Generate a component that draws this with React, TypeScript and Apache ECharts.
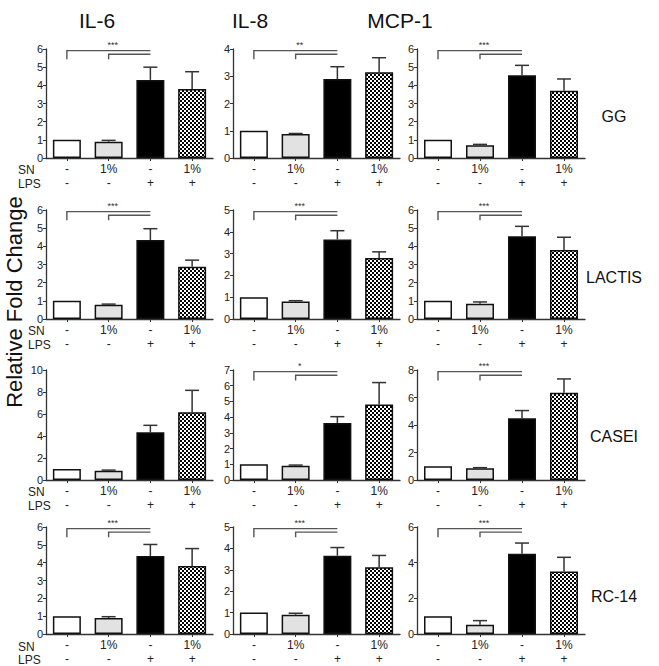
import React, { useEffect, useRef } from "react";
import * as echarts from "echarts";

const cytokines = ["IL-6", "IL-8", "MCP-1"];
const strains = ["GG", "LACTIS", "CASEI", "RC-14"];
const conditions = ["Control", "SN", "LPS", "SN+LPS"];
const snLabels = ["-", "1%", "-", "1%"];
const lpsLabels = ["-", "-", "+", "+"];

// mean values (fold change) per strain, per cytokine
const ggIL6 = [1.0, 0.9, 4.3, 3.8];
const ggIL8 = [1.0, 0.88, 2.9, 3.15];
const ggMCP1 = [1.0, 0.7, 4.55, 3.7];
const lactisIL6 = [1.0, 0.78, 4.35, 2.88];
const lactisIL8 = [1.0, 0.8, 3.65, 2.8];
const lactisMCP1 = [1.0, 0.84, 4.55, 3.8];
const caseiIL6 = [1.0, 0.85, 4.33, 6.15];
const caseiIL8 = [1.0, 0.9, 3.63, 4.8];
const caseiMCP1 = [1.0, 0.85, 4.5, 6.35];
const rc14IL6 = [1.0, 0.9, 4.38, 3.82];
const rc14IL8 = [1.0, 0.9, 3.66, 3.12];
const rc14MCP1 = [1.0, 0.52, 4.5, 3.5];

// upper error (SEM)
const ggIL6Err = [0, 0.07, 0.7, 0.95];
const ggIL8Err = [0, 0.02, 0.45, 0.53];
const ggMCP1Err = [0, 0.05, 0.55, 0.65];
const lactisIL6Err = [0, 0.04, 0.62, 0.36];
const lactisIL8Err = [0, 0.04, 0.4, 0.28];
const lactisMCP1Err = [0, 0.1, 0.55, 0.7];
const caseiIL6Err = [0, 0.05, 0.64, 2.0];
const caseiIL8Err = [0, 0.05, 0.4, 1.4];
const caseiMCP1Err = [0, 0.05, 0.55, 1.0];
const rc14IL6Err = [0, 0.07, 0.64, 0.97];
const rc14IL8Err = [0, 0.07, 0.38, 0.55];
const rc14MCP1Err = [0, 0.23, 0.6, 0.8];

const axisMax = [
  [6, 4, 6],
  [6, 5, 6],
  [10, 7, 8],
  [6, 5, 6],
];
const axisInterval = [
  [1, 1, 1],
  [1, 1, 1],
  [2, 1, 2],
  [1, 1, 2],
];
const significance = [
  ["***", "**", "***"],
  ["***", "***", "***"],
  ["", "*", "***"],
  ["***", "***", "***"],
];

const values = [
  [ggIL6, ggIL8, ggMCP1],
  [lactisIL6, lactisIL8, lactisMCP1],
  [caseiIL6, caseiIL8, caseiMCP1],
  [rc14IL6, rc14IL8, rc14MCP1],
];
const errors = [
  [ggIL6Err, ggIL8Err, ggMCP1Err],
  [lactisIL6Err, lactisIL8Err, lactisMCP1Err],
  [caseiIL6Err, caseiIL8Err, caseiMCP1Err],
  [rc14IL6Err, rc14IL8Err, rc14MCP1Err],
];

// layout
const colLeft = [46, 233, 417];
const colWidth = [167, 167, 168];
const rowTop = [49, 210, 370, 527];
const rowHeight = [109, 109, 110, 109];
const FONT = "Liberation Sans, Arial, Helvetica, sans-serif";
const INK = "#222";

function makeChecker() {
  const c = document.createElement("canvas");
  c.width = 4;
  c.height = 4;
  const ctx = c.getContext("2d")!;
  ctx.fillStyle = "#fff";
  ctx.fillRect(0, 0, 4, 4);
  ctx.fillStyle = "#000";
  ctx.fillRect(0, 0, 2, 2);
  ctx.fillRect(2, 2, 2, 2);
  return c;
}

export default function App() {
  const ref = useRef<HTMLDivElement>(null);
  useEffect(() => {
    if (!ref.current) return;
    const chart = echarts.init(ref.current, null, { renderer: "svg" });
    const checker = makeChecker();
    const barFills: any[] = [
      "#ffffff",
      "#e2e2e2",
      "#000000",
      { image: checker, repeat: "repeat" },
    ];

    const grid: any[] = [];
    const xAxis: any[] = [];
    const yAxis: any[] = [];
    const series: any[] = [];
    let idx = 0;
    for (let r = 0; r < 4; r++) {
      for (let c = 0; c < 3; c++) {
        const max = axisMax[r][c];
        grid.push({
          left: colLeft[c],
          width: colWidth[c],
          top: rowTop[r],
          height: rowHeight[r],
          containLabel: false,
        });
        xAxis.push({
          type: "category",
          gridIndex: idx,
          data: conditions,
          axisLine: { lineStyle: { color: "#333", width: 1.3 } },
          axisTick: { show: true, alignWithLabel: true, length: 3, lineStyle: { color: "#333" } },
          axisLabel: {
            interval: 0,
            margin: 4,
            fontFamily: FONT,
            fontSize: 12,
            lineHeight: 14,
            color: INK,
            formatter: (_v: string, i: number) => `${snLabels[i]}\n${lpsLabels[i]}`,
          },
        });
        yAxis.push({
          type: "value",
          gridIndex: idx,
          min: 0,
          max,
          interval: axisInterval[r][c],
          axisLine: { show: true, lineStyle: { color: "#333", width: 1.3 } },
          axisTick: { show: true, length: 3, lineStyle: { color: "#333" } },
          splitLine: { show: false },
          axisLabel: { fontFamily: FONT, fontSize: 11, color: INK, margin: 3 },
        });
        const vals = values[r][c];
        const errs = errors[r][c];
        series.push({
          type: "bar",
          xAxisIndex: idx,
          yAxisIndex: idx,
          barWidth: 28,
          z: 2,
          data: vals.map((v, i) => ({
            value: v,
            itemStyle: { color: barFills[i], borderColor: "#111", borderWidth: 1.5 },
          })),
        });
        series.push({
          type: "custom",
          xAxisIndex: idx,
          yAxisIndex: idx,
          z: 3,
          data: vals.map((v, i) => [i, v, v + errs[i]]),
          renderItem: (_p: any, api: any) => {
            const b = api.coord([api.value(0), api.value(1)]);
            const t = api.coord([api.value(0), api.value(2)]);
            if (Math.abs(b[1] - t[1]) < 0.5) return null;
            return {
              type: "group",
              children: [
                {
                  type: "line",
                  shape: { x1: b[0], y1: b[1], x2: t[0], y2: t[1] },
                  style: { stroke: "#333", lineWidth: 1.5 },
                },
                {
                  type: "line",
                  shape: { x1: t[0] - 7, y1: t[1], x2: t[0] + 7, y2: t[1] },
                  style: { stroke: "#333", lineWidth: 1.5 },
                },
              ],
            };
          },
        });
        const sig = significance[r][c];
        if (sig) {
          series.push({
            type: "custom",
            xAxisIndex: idx,
            yAxisIndex: idx,
            z: 4,
            data: [[0, 1, 2, max * 0.985, max * 0.952, max * 0.905]],
            renderItem: (_p: any, api: any) => {
              const p0 = api.coord([api.value(0), api.value(5)]);
              const p0t = api.coord([api.value(0), api.value(3)]);
              const p2t = api.coord([api.value(2), api.value(3)]);
              const p1 = api.coord([api.value(1), api.value(5)]);
              const p1s = api.coord([api.value(1), api.value(4)]);
              const p2s = api.coord([api.value(2), api.value(4)]);
              const st = { stroke: "#555", lineWidth: 1.4, fill: null };
              return {
                type: "group",
                children: [
                  { type: "polyline", shape: { points: [p0, p0t, p2t] }, style: st },
                  { type: "polyline", shape: { points: [p1, p1s, p2s] }, style: st },
                  {
                    type: "text",
                    x: (p0t[0] + p2t[0]) / 2 + 4,
                    y: p0t[1] - 1,
                    style: {
                      text: sig,
                      font: `9px ${FONT}`,
                      fill: "#333",
                      textAlign: "center",
                      textVerticalAlign: "bottom",
                    },
                  },
                ],
              };
            },
          });
        }
        idx++;
      }
    }

    const graphic: any[] = [];
    const titleX = [97, 250, 400];
    cytokines.forEach((t, i) =>
      graphic.push({
        type: "text",
        x: titleX[i],
        y: 20,
        style: { text: t, font: `21px ${FONT}`, fill: "#111", textAlign: "center", textVerticalAlign: "middle" },
      })
    );
    const strainY = [116, 277, 436, 596];
    strains.forEach((s, i) =>
      graphic.push({
        type: "text",
        x: 614,
        y: strainY[i],
        style: { text: s, font: `16px ${FONT}`, fill: "#111", textAlign: "center", textVerticalAlign: "middle" },
      })
    );
    const rowLabelX = [18, 28, 28, 18];
    const snOffset = [12, 12, 12, 11];
    const lpsOffset = [26, 26, 26, 24];
    for (let r = 0; r < 4; r++) {
      const zero = rowTop[r] + rowHeight[r];
      graphic.push({
        type: "text",
        x: rowLabelX[r],
        y: zero + snOffset[r],
        style: { text: "SN", font: `12px ${FONT}`, fill: INK, textAlign: "left", textVerticalAlign: "middle" },
      });
      graphic.push({
        type: "text",
        x: rowLabelX[r],
        y: zero + lpsOffset[r],
        style: { text: "LPS", font: `12px ${FONT}`, fill: INK, textAlign: "left", textVerticalAlign: "middle" },
      });
    }
    graphic.push({
      type: "text",
      x: 14,
      y: 302,
      rotation: Math.PI / 2,
      style: {
        text: "Relative Fold Change",
        font: `22px ${FONT}`,
        fill: "#111",
        textAlign: "center",
        textVerticalAlign: "middle",
      },
    });

    chart.setOption({
      animation: false,
      backgroundColor: "#ffffff",
      grid,
      xAxis,
      yAxis,
      series,
      graphic,
    });
    return () => chart.dispose();
  }, []);
  return (
    <div
      ref={ref}
      style={{ position: "fixed", left: 0, top: 0, width: 659, height: 666 }}
    />
  );
}
